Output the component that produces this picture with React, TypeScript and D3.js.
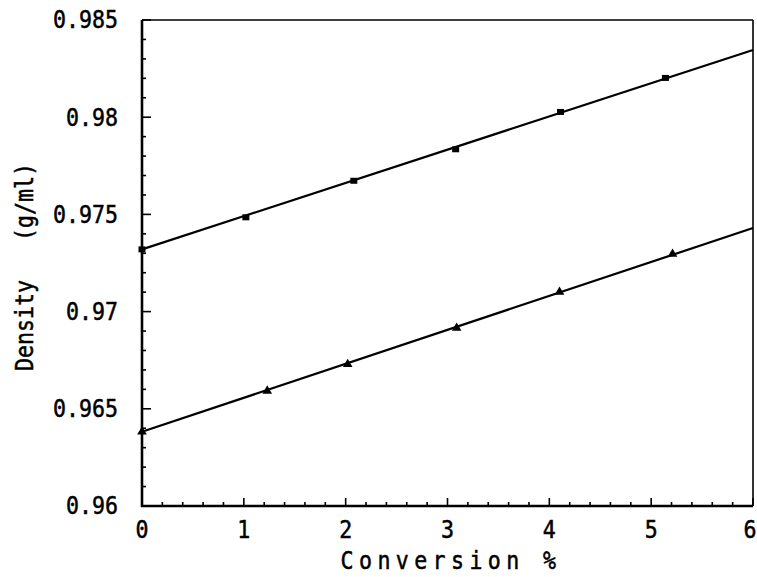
import React from "react";
import * as d3 from "d3";

const xTicks = [0, 1, 2, 3, 4, 5, 6];
const yTicks = [0.96, 0.965, 0.97, 0.975, 0.98, 0.985];
const yTickLabels = ["0.96", "0.965", "0.97", "0.975", "0.98", "0.985"];

const upperX = [0, 1.02, 2.08, 3.08, 4.11, 5.14];
const upperY = [0.9732, 0.97485, 0.97673, 0.97835, 0.98027, 0.98202];
const upperFit = [0, 0.9732, 6, 0.98346];

const lowerX = [0, 1.23, 2.02, 3.09, 4.1, 5.21];
const lowerY = [0.96382, 0.96592, 0.96729, 0.96916, 0.97101, 0.97296];
const lowerFit = [0, 0.96382, 6, 0.9743];

const W = 757, H = 577;
const L = 142, R = 753, T = 20, B = 506;
const FONT = "'DejaVu Sans Mono', monospace";
const FS = 24;
const SX = 0.9;

export default function App() {
  const x = d3.scaleLinear().domain([0, 6]).range([L, R]);
  const y = d3.scaleLinear().domain([0.96, 0.985]).range([B, T]);

  const xMinor = d3.range(0, 6.0001, 0.2);
  const yMinor = d3.range(0.96, 0.98501, 0.001);

  const tri = d3.symbol().type(d3.symbolTriangle).size(40)();

  const fitLine = (f: number[]) => (
    <line x1={x(f[0])} y1={y(f[1])} x2={x(f[2])} y2={y(f[3])} stroke="#000" strokeWidth={2.2} />
  );

  const textProps = {
    fontFamily: FONT,
    fontSize: FS,
    fill: "#000",
    stroke: "#000",
    strokeWidth: 0.5,
    dominantBaseline: "central" as const,
  };

  return (
    <svg width={W} height={H} style={{ position: "absolute", left: 0, top: 0, background: "#fff" }}>
      <rect x={0} y={0} width={W} height={H} fill="#fff" />
      {/* box */}
      <line x1={L} y1={T} x2={R} y2={T} stroke="#000" strokeWidth={1.6} />
      <line x1={R} y1={T} x2={R} y2={B} stroke="#000" strokeWidth={1.6} />
      <line x1={L} y1={T} x2={L} y2={B + 1} stroke="#000" strokeWidth={2.6} />
      <line x1={L - 1} y1={B} x2={R} y2={B} stroke="#000" strokeWidth={2.6} />
      {/* y ticks */}
      {yMinor.map((v, i) => {
        const major = i % 5 === 0;
        return <line key={"ym" + i} x1={L} x2={L + (major ? 9 : 4)} y1={y(v)} y2={y(v)} stroke="#000" strokeWidth={1.6} />;
      })}
      {xMinor.map((v, i) => {
        const major = i % 5 === 0;
        return <line key={"xm" + i} x1={x(v)} x2={x(v)} y1={B} y2={B - (major ? 8 : 4)} stroke="#000" strokeWidth={1.6} />;
      })}
      {/* y labels */}
      {yTicks.map((v, i) => (
        <text key={"yl" + i} transform={`translate(118,${y(v)}) scale(${SX},1)`} textAnchor="end" {...textProps}>{yTickLabels[i]}</text>
      ))}
      {xTicks.map((v, i) => (
        <text key={"xl" + i} transform={`translate(${Math.min(x(v), 750)},530) scale(${SX},1)`} textAnchor="middle" {...textProps}>{String(v)}</text>
      ))}
      {/* titles */}
      <text transform={`translate(25,267) rotate(-90) scale(${SX},1)`} textAnchor="middle" {...textProps} xmlSpace="preserve">{"Density   (g/ml)"}</text>
      <text transform={`translate(451,561) scale(${SX},1)`} textAnchor="middle" {...textProps} letterSpacing={6} xmlSpace="preserve">{"Conversion %"}</text>
      {/* fits */}
      {fitLine(upperFit)}
      {fitLine(lowerFit)}
      {/* markers */}
      {upperX.map((v, i) => (
        <rect key={"u" + i} x={x(v) - 3.5} y={y(upperY[i]) - 3} width={7} height={6} fill="#000" />
      ))}
      {lowerX.map((v, i) => (
        <path key={"l" + i} d={tri as string} transform={`translate(${x(v)},${y(lowerY[i])})`} fill="#000" />
      ))}
    </svg>
  );
}
